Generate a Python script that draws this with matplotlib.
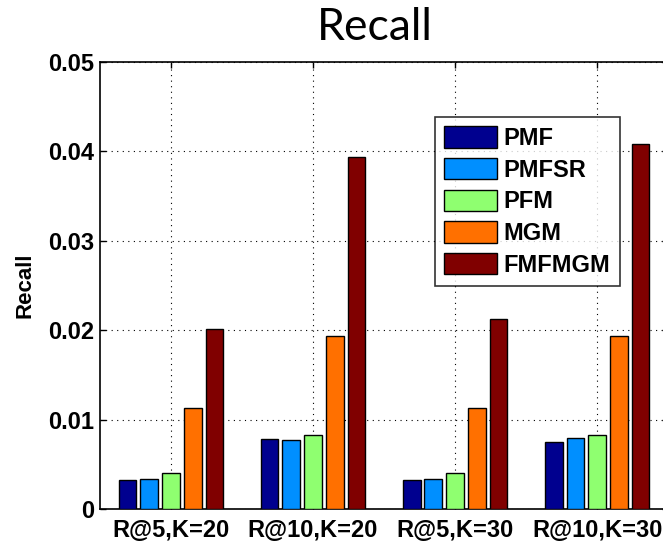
import numpy as np
import matplotlib
matplotlib.use('Agg')
import matplotlib.pyplot as plt

# Groups on the x-axis and the methods compared in each group
groups = ['R@5,K=20', 'R@10,K=20', 'R@5,K=30', 'R@10,K=30']
methods = ['PMF', 'PMFSR', 'PFM', 'MGM', 'FMFMGM']

# Recall of each method, one value per group
pmf = [0.0032, 0.0078, 0.0032, 0.0075]
pmfsr = [0.0034, 0.0077, 0.0034, 0.0079]
pfm = [0.0040, 0.0083, 0.0040, 0.0083]
mgm = [0.0113, 0.0194, 0.0113, 0.0194]
fmfmgm = [0.0201, 0.0394, 0.0212, 0.0408]

yticks = [0, 0.01, 0.02, 0.03, 0.04, 0.05]
yticklabels = ['0', '0.01', '0.02', '0.03', '0.04', '0.05']

colors = ['#00008F', '#008FFF', '#8FFF70', '#FF7000', '#800000']

plt.rcParams['font.family'] = ['Liberation Sans', 'DejaVu Sans']
plt.rcParams['font.weight'] = 'bold'

fig = plt.figure(figsize=(6.63, 5.44), dpi=100)
# right edge of the axes runs slightly past the figure
ax = fig.add_axes([0.1508, 0.0643, 0.857, 0.822])

x = np.arange(1, len(groups) + 1)
pitch = 0.153
width = 0.125
series = [pmf, pmfsr, pfm, mgm, fmfmgm]
for i, (vals, name) in enumerate(zip(series, methods)):
    ax.bar(x + (i - 2) * pitch, vals, width, color=colors[i], edgecolor='black',
           linewidth=1.0, label=name, zorder=3)

ax.set_xlim(0.5, 4.5)
ax.set_ylim(0, 0.05)
ax.set_xticks(x)
ax.set_xticklabels(groups, fontsize=17, fontweight='bold')
ax.set_yticks(yticks)
ax.set_yticklabels(yticklabels, fontsize=17, fontweight='bold')
ax.tick_params(direction='in', length=4, width=1)
ax.tick_params(axis='x', pad=7)
ax.tick_params(axis='y', pad=4)
ax.tick_params(top=True, right=True)
for s in ax.spines.values():
    s.set_linewidth(1.2)

ax.grid(True, linestyle=(0, (1, 4)), color='black', linewidth=0.8, zorder=0)
ax.set_axisbelow(True)

ax.set_ylabel('Recall', fontsize=16, fontweight='bold', labelpad=9)
fig.text(0.566, 0.950, 'Recall', fontsize=32, fontweight='normal',
         family=['Lato', 'DejaVu Sans'], ha='center', va='center')

leg = ax.legend(loc='upper left', bbox_to_anchor=(0.656, 0.785), bbox_transform=fig.transFigure,
                prop={'size': 17, 'weight': 'bold'},
                frameon=True, fancybox=False, edgecolor='black', handlelength=2.25,
                handleheight=1.0, labelspacing=0.34, handletextpad=0.25, borderpad=0.4,
                borderaxespad=0)
leg.get_frame().set_linewidth(1.2)

fig.savefig('out.png', dpi=100)
